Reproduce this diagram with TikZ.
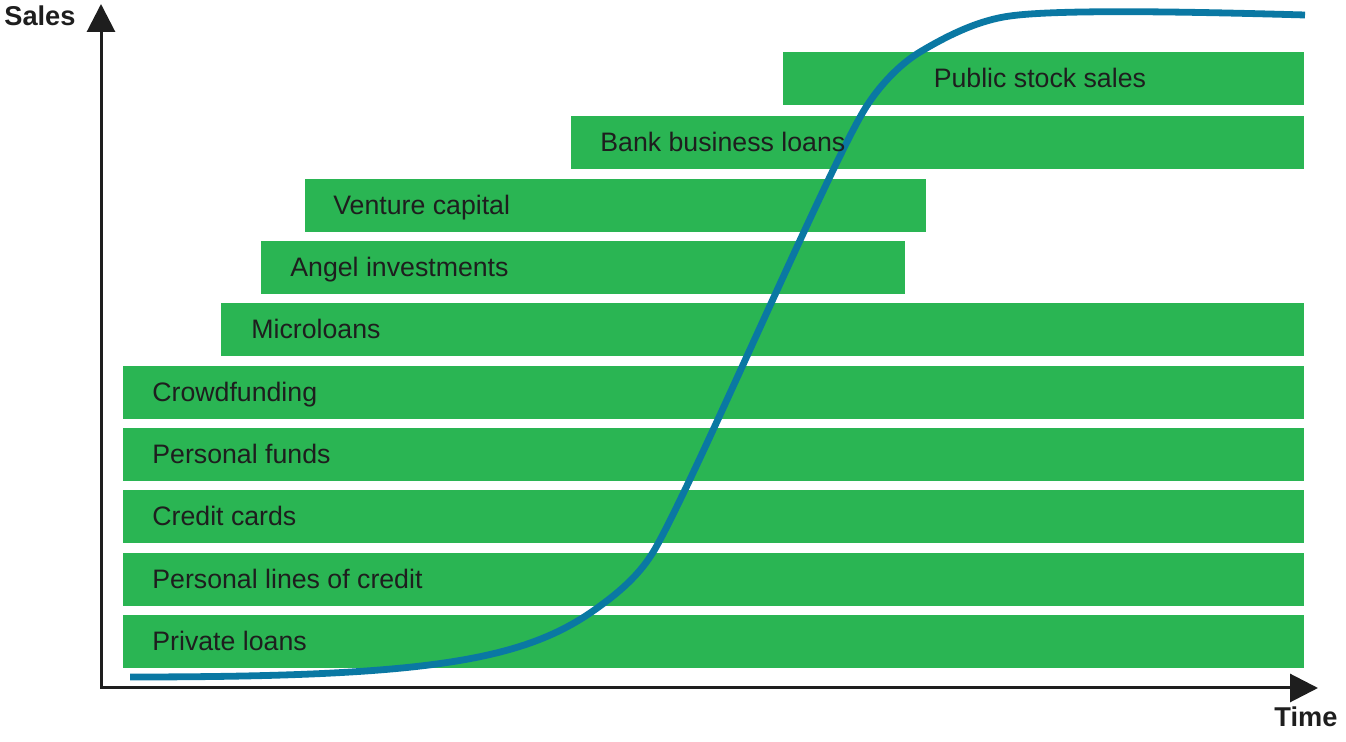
\documentclass[tikz,border=0pt]{standalone}
\usepackage{fontspec}
\setmainfont{Liberation Sans}
\usetikzlibrary{arrows.meta}
\definecolor{barGreen}{HTML}{2AB553}
\definecolor{curveBlue}{HTML}{0A78A3}
\definecolor{txt}{HTML}{1E1E1E}
\tikzset{
  bar/.style={fill=barGreen, draw=none, inner sep=0pt, minimum height=26.5pt, anchor=north west},
  lbl/.style={text=txt, inner sep=0pt, font=\fontsize{13.35}{16}\selectfont},
  axlbl/.style={text=txt, inner sep=0pt, font=\fontsize{13.6}{16}\selectfont\bfseries, anchor=base west},
  axis/.style={line width=1.5pt, draw=txt, {Triangle[length=14pt,width=14pt]}-{Triangle[length=14pt,width=14pt]}},
  scurve/.style={curveBlue, line width=3.4pt},
}
\begin{document}
\begin{tikzpicture}[x=0.5pt,y=-0.5pt]
\useasboundingbox (0,0) rectangle (1346,742);
% bars
\node[bar, minimum width=260.5pt] (b1) at (783,52) {};
\node[bar, minimum width=366.5pt] (b2) at (571,116) {};
\node[bar, minimum width=310.5pt] (b3) at (305,179) {};
\node[bar, minimum width=322pt]   (b4) at (261,241) {};
\node[bar, minimum width=541.5pt] (b5) at (221,303) {};
\node[bar, minimum width=590.5pt] (b6) at (123,366) {};
\node[bar, minimum width=590.5pt] (b7) at (123,428) {};
\node[bar, minimum width=590.5pt] (b8) at (123,490) {};
\node[bar, minimum width=590.5pt] (b9) at (123,553) {};
\node[bar, minimum width=590.5pt] (b10) at (123,615) {};
% curve
\draw[scurve] (130,677)
  .. controls (420,677) and (520,662) .. (593,611)
  .. controls (618,593.5) and (640,575) .. (655,549)
  .. controls (695,479) and (823,180) .. (863,112)
  .. controls (878,86.5) and (900,64) .. (920,52)
  .. controls (950,34) and (980,20) .. (1010,16)
  .. controls (1060,9) and (1200,12) .. (1305,15);
% labels
\node[lbl, anchor=base] (t1) at ([xshift=-2pt,yshift=-4.25pt]b1.center) {Public stock sales};
\node[lbl, anchor=base west] (t2) at ([xshift=14.5pt,yshift=-4.25pt]b2.west) {Bank business loans};
\node[lbl, anchor=base west] (t3) at ([xshift=14pt,yshift=-4.25pt]b3.west) {Venture capital};
\node[lbl, anchor=base west] (t4) at ([xshift=14.5pt,yshift=-4.25pt]b4.west) {Angel investments};
\node[lbl, anchor=base west] (t5) at ([xshift=15pt,yshift=-4.25pt]b5.west) {Microloans};
\node[lbl, anchor=base west] (t6) at ([xshift=14.5pt,yshift=-4.25pt]b6.west) {Crowdfunding};
\node[lbl, anchor=base west] (t7) at ([xshift=14.5pt,yshift=-4.25pt]b7.west) {Personal funds};
\node[lbl, anchor=base west] (t8) at ([xshift=14.5pt,yshift=-4.25pt]b8.west) {Credit cards};
\node[lbl, anchor=base west] (t9) at ([xshift=14.5pt,yshift=-4.25pt]b9.west) {Personal lines of credit};
\node[lbl, anchor=base west] (t10) at ([xshift=14.5pt,yshift=-4.25pt]b10.west) {Private loans};
% axes
\coordinate (ytip) at (101,4);
\coordinate (O) at (101,688);
\coordinate (xtip) at (1318,688);
\draw[axis] (ytip) -- (O) -- (xtip);
\node[axlbl] (sales) at (4,26) {Sales};
\node[axlbl] (time) at (1274,727) {Time};
\end{tikzpicture}
\end{document}
